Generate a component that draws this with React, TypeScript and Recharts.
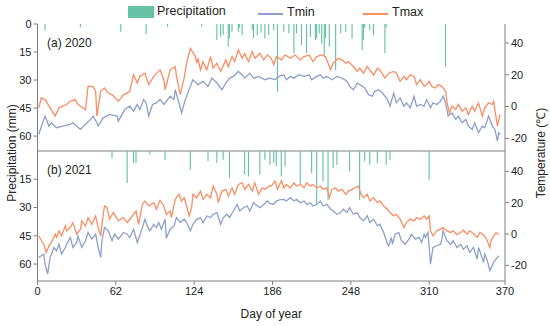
import React from "react";
import { ComposedChart, Bar, Line, XAxis, YAxis } from "recharts";

type Pt = [number, number]; // [day of year, value]

const dayTicks = [0, 62, 124, 186, 248, 310, 370];
const precipTicks = [0, 15, 30, 45, 60];
const tempTicks = [-20, 0, 20, 40];

// 2020
const tmax2020: Pt[] = [
  [1, -0.8], [3, 5.4], [6, 4.4], [10, -0.8], [14, -6], [17, -0.8], [23, 1.3], [26, 3.3], [30, 4.4], [31, 2.3],
  [34, 0.2], [38, -1.9], [40, 12.7], [44, 12.7], [46, 9.6], [47, -6], [50, 9.6], [53, 11.7], [56, 8.5], [59, 7.5],
  [64, 3.3], [68, 7.5], [71, 8.5], [73, 9.6], [76, 20], [79, 14.8], [81, 19], [85, 21], [88, 13.8], [92, 19],
  [97, 23.1], [100, 16.9], [101, 10.6], [105, 23.1], [109, 25.2], [110, 19], [113, 7.5], [116, 17.9], [118, 27.3], [121, 36.7],
  [125, 31.5], [126, 27.3], [127, 30.4], [129, 23.1], [131, 28.3], [134, 23.1], [137, 31.5], [139, 24.2], [142, 27.3], [145, 22.1],
  [149, 29.4], [151, 25.2], [154, 31.5], [156, 28.3], [159, 35.6], [162, 30.4], [164, 33.5], [167, 28.3], [170, 34.6], [172, 30.4],
  [176, 33.5], [179, 29.4], [182, 32.5], [185, 30.4], [187, 26.3], [189, 31.5], [193, 29.4], [196, 32.5], [200, 30.4], [204, 32.5],
  [208, 29.4], [211, 31.5], [215, 32.5], [218, 28.3], [221, 31.5], [225, 32.5], [228, 31.5], [230, 27.3], [232, 23.1], [234, 27.3],
  [238, 30.4], [241, 29.4], [244, 27.3], [246, 28.3], [250, 25.2], [253, 22.1], [255, 24.2], [258, 21], [261, 25.2], [263, 23.1],
  [266, 19.9], [269, 24.2], [271, 23.1], [275, 17.9], [278, 21], [282, 22.1], [284, 21], [287, 15.9], [290, 19], [292, 16.9],
  [295, 20], [298, 19], [300, 13.8], [303, 16.9], [306, 12.7], [308, 13.8], [310, 15.9], [312, 12.7], [315, 11.7], [317, 13.8],
  [320, 12.7], [323, 9.6], [324, 3.3], [326, -4], [328, 0.2], [331, -1.9], [333, 1.3], [336, -2.9], [339, -0.8], [341, -5],
  [344, 0.2], [346, -2.9], [349, 2.3], [352, -6], [354, -0.8], [357, 2.3], [360, 1.3], [361, 3.3], [364, -12.3], [366, -5],
];
const tmin2020: Pt[] = [
  [1, -17.5], [5, -8.1], [6, -6], [9, -12.3], [11, -10.2], [15, -13.3], [20, -12.3], [26, -11.2], [28, -10.2], [34, -14.4],
  [38, -11.2], [42, -8.1], [44, -6], [47, -10.2], [48, -12.3], [52, -7.1], [57, -5], [63, -6], [64, -9.2], [69, -1.9],
  [73, 0.2], [76, -2.9], [79, 1.3], [81, -1.9], [84, 4.4], [86, 2.3], [88, -6], [91, 1.3], [94, 2.3], [97, 4.4],
  [100, 1.3], [105, 6.5], [108, 4.4], [109, 10.6], [112, 2.3], [114, -4], [117, 4.4], [121, 12.7], [123, 16.9], [127, 13.8],
  [131, 15.9], [135, 12.7], [138, 17.9], [142, 14.8], [146, 10.6], [149, 14.8], [152, 17.9], [155, 19], [159, 22.1], [162, 20],
  [164, 17.9], [168, 21], [171, 17.9], [175, 19], [180, 16.9], [184, 17.9], [188, 16.9], [191, 19], [195, 20], [197, 16.9],
  [200, 19], [203, 17.9], [207, 20], [211, 19], [215, 20], [217, 16.9], [221, 19], [224, 20], [226, 17.9], [229, 19],
  [233, 16.9], [237, 19], [241, 17.9], [245, 15.9], [247, 12.7], [250, 10.6], [253, 14.8], [255, 13.8], [259, 11.7], [262, 7.5],
  [265, 6.5], [267, 9.6], [270, 10.6], [273, 8.5], [275, 6.5], [277, 4.4], [279, 0.2], [282, 8.5], [284, 2.3], [287, 5.4],
  [290, 0.2], [292, 2.3], [295, -0.8], [298, 6.5], [300, 0.2], [303, 1.3], [306, 0.2], [308, 4.4], [311, -0.8], [313, 2.3],
  [316, 1.3], [319, 3.3], [321, 6.5], [323, 2.3], [325, -6], [328, -4], [331, -8.1], [333, -6], [336, -10.2], [339, -8.1],
  [341, -12.3], [344, -14.4], [346, -10.2], [349, -16.5], [352, -12.3], [354, -13.3], [357, -6], [360, -12.3], [362, -14.4], [364, -21.7],
  [365, -16.5], [366, -17.5],
];
const precip2020: Pt[] = [
  [6, 3.2], [34, 1.8], [66, 4.1], [86, 5.4], [103, 1.5], [130, 1.5], [142, 8.6], [145, 6.8], [147, 5.9], [151, 12.1],
  [152, 7.7], [154, 4.1], [159, 4.1], [160, 2], [162, 5.9], [170, 3.2], [171, 7.7], [174, 5.9], [177, 4.5], [180, 7.7],
  [183, 5.9], [187, 3.2], [190, 36.2], [195, 4.1], [199, 5], [203, 15.7], [205, 5], [209, 11.2], [213, 15.7], [216, 6.8],
  [220, 8.6], [221, 7.7], [223, 5], [225, 10.4], [227, 16.6], [228, 7.7], [231, 12.1], [236, 24.6], [240, 5], [244, 4.1],
  [249, 7.7], [257, 13.9], [258, 8.6], [259, 2], [263, 3.2], [266, 5.9], [275, 15.7], [276, 2], [323, 22.9],
];

// 2021
const tmax2021: Pt[] = [
  [1, -1.2], [3, -4], [5, -6.5], [7, -11.8], [9, -7.6], [11, -5.4], [14, -0.1], [15, -2.2], [17, 2], [19, -1.2],
  [22, 5.2], [23, 2], [26, 4.1], [28, 7.3], [31, -0.1], [34, 3.1], [35, 8.4], [38, 5.2], [40, 10.5], [43, 6.2],
  [46, 11.5], [48, 4.1], [50, -1.2], [51, 6.2], [53, 17.9], [55, 16.8], [57, 9.4], [60, 13.7], [64, 8.4], [68, 10.5],
  [71, 7.3], [75, 11.5], [78, 14.7], [80, 6.2], [83, 18.9], [85, 21.1], [88, 17.9], [92, 20], [94, 15.8], [97, 21.5],
  [100, 17.9], [102, 12.6], [105, 14.7], [106, 10.5], [109, 22.1], [112, 25.3], [114, 21.1], [116, 23.2], [118, 17.9], [120, 11.6],
  [122, 16.8], [123, 25.3], [126, 23.2], [129, 27.4], [131, 22.1], [134, 25.3], [137, 23.2], [139, 30.6], [142, 25.3], [143, 20],
  [146, 27.4], [149, 28.5], [151, 24.2], [154, 29.5], [156, 25.3], [159, 31.6], [162, 32.7], [164, 28.5], [167, 31.6], [170, 27.4],
  [172, 32.7], [175, 25.3], [178, 29.5], [180, 28.5], [183, 30.6], [185, 30.6], [188, 33.7], [190, 28.5], [193, 34.2], [195, 29.5],
  [197, 31.6], [200, 29.5], [203, 32.7], [205, 30.6], [208, 31.6], [211, 29.5], [213, 32.7], [216, 30.6], [218, 31.6], [221, 29.5],
  [224, 30.6], [226, 28.5], [229, 29.5], [231, 23.2], [233, 28.5], [236, 29.5], [238, 27.4], [241, 28.5], [244, 25.3], [246, 27.4],
  [249, 28.5], [251, 29.5], [254, 30.6], [256, 25.3], [258, 23.2], [261, 25.3], [263, 21.1], [266, 23.2], [269, 20], [271, 21.1],
  [274, 17.9], [277, 15.8], [279, 13.7], [282, 11.6], [284, 12.6], [287, 9.5], [290, 4.1], [292, 7.3], [295, 9.5], [298, 8.4],
  [300, 10.5], [303, 9.5], [306, 11.6], [308, 9.5], [310, 11.6], [311, 2], [313, -1.2], [316, 2], [319, 3.1], [321, 4.1],
  [324, 2], [327, 1], [329, 2], [332, -0.5], [335, 1], [337, 2.4], [340, -0.1], [342, 2], [345, 0.3], [348, -2.2],
  [350, 1], [353, -0.5], [356, -4.3], [358, -8.6], [359, -4.3], [361, -1.2], [363, 0.9], [365, -0.5],
];
const tmin2021: Pt[] = [
  [1, -14.9], [3, -13.9], [5, -12.8], [6, -19.2], [8, -25.6], [10, -14.9], [13, -8.6], [15, -10.7], [17, -6.5], [19, -12.8],
  [22, -8.6], [23, -6.5], [26, -2.2], [28, -8.6], [31, -5.4], [32, -1.2], [35, -8.6], [38, -4.3], [40, 1], [43, -3.3],
  [46, -0.1], [48, -8.6], [50, -14.9], [51, -4.3], [53, 4.1], [56, 2], [59, -4.3], [61, -0.1], [64, -3.3], [68, 1],
  [71, -0.1], [73, -2.2], [76, 3.1], [79, -5.4], [83, 4.1], [85, 9.4], [88, 3.1], [89, 2], [92, 6.2], [94, 4.1],
  [96, 7.3], [98, 3.1], [101, 9.4], [102, -2.6], [105, 3.1], [108, 5.2], [110, 10.5], [113, 7.3], [116, 9.4], [118, 7.3],
  [121, 2], [123, 6.2], [126, 9.4], [129, 10.5], [131, 7.3], [134, 11.5], [137, 10.5], [139, 12.6], [142, 13.7], [145, 6.2],
  [147, 10.5], [150, 12.6], [152, 10.5], [155, 14.7], [158, 18.9], [160, 14.7], [163, 16.8], [166, 17.9], [168, 14.7], [171, 20],
  [174, 17.9], [176, 16.8], [179, 18.9], [182, 21.1], [184, 19.5], [187, 19], [189, 21], [192, 22], [195, 22.1], [197, 21.1],
  [200, 23.2], [203, 21.1], [205, 22.1], [208, 20], [211, 21.1], [213, 18.9], [216, 20], [218, 17.9], [221, 18.9], [224, 21.1],
  [226, 17.9], [229, 18.9], [232, 15.8], [234, 14.7], [237, 12.6], [240, 13.7], [242, 15.8], [245, 13.7], [247, 16.8], [250, 12.6],
  [253, 13.7], [255, 10.5], [258, 8.4], [261, 11.6], [263, 7.3], [266, 9.4], [269, 5.2], [271, 6.2], [274, 1], [277, -6.5],
  [278, -7.6], [280, -2.2], [281, -6.5], [283, -0.1], [286, 0.9], [288, -4.3], [291, -6.5], [294, -3.3], [296, -0.1], [299, -3.3],
  [302, -2.2], [304, -5.4], [306, -0.1], [307, -2.2], [309, 1], [310, -8.6], [311, -19.2], [313, -8.6], [316, -7.5], [319, -6.5],
  [320, -3.3], [321, 2], [324, -4.3], [327, -6.5], [329, -4.3], [332, -8.6], [335, -6.5], [337, -9.7], [340, -7.5], [342, -11.8],
  [345, -8.6], [348, -16], [349, -8.6], [350, -10.7], [353, -18.1], [354, -12.8], [356, -17], [358, -23.3], [361, -18.1], [364, -14.9],
  [365, -13.9],
];
const precip2021: Pt[] = [
  [59, 3.7], [71, 17], [76, 6.4], [78, 6.4], [89, 2], [101, 4.6], [121, 9.9], [135, 5.5], [142, 6.4], [147, 4.6],
  [152, 14.3], [164, 12.6], [167, 13.5], [176, 12.6], [180, 4.6], [184, 7.3], [187, 6.4], [189, 8.1], [193, 13.5], [196, 8.1],
  [208, 17.9], [217, 11.7], [221, 27.6], [226, 16.1], [230, 25.9], [234, 9], [237, 7.3], [247, 10.8], [255, 25.9], [259, 5.5],
  [263, 7.3], [269, 6.4], [276, 7.3], [279, 4.6], [310, 15.2],
];

const GREEN = "#66c2a5";
const ORANGE = "#fc8d62";
const BLUE = "#8da0cb";
const AXIS = "#808080";
const FONT = "'Liberation Sans', Arial, sans-serif";

interface Row {
  day: number;
  tmax?: number;
  tmin?: number;
  precip?: number;
}

function buildRows(tmax: Pt[], tmin: Pt[], precip: Pt[]): Row[] {
  const byDay = new Map<number, Row>();
  const at = (d: number) => {
    let r = byDay.get(d);
    if (!r) {
      r = { day: d };
      byDay.set(d, r);
    }
    return r;
  };
  tmax.forEach(([d, v]) => (at(d).tmax = v));
  tmin.forEach(([d, v]) => (at(d).tmin = v));
  precip.forEach(([d, v]) => (at(d).precip = v));
  return [...byDay.values()].sort((a, b) => a.day - b.day);
}

const tickStyle = { fill: "#222", fontSize: 11, fontFamily: FONT };

function Panel({
  rows,
  top,
  height,
  marginTop,
  marginBottom,
  precipMax,
  tempDomain,
  labelled,
}: {
  rows: Row[];
  top: number;
  height: number;
  marginTop: number;
  marginBottom: number;
  precipMax: number;
  tempDomain: [number, number];
  labelled: boolean;
}) {
  return (
    <div style={{ position: "absolute", left: 0, top }}>
      <ComposedChart
        width={550}
        height={height}
        data={rows}
        margin={{ top: marginTop, right: 5, bottom: marginBottom, left: 7.5 }}
      >
        <XAxis
          xAxisId="top"
          orientation="top"
          dataKey="day"
          type="number"
          domain={[0, 370]}
          ticks={dayTicks}
          tick={false}
          tickLine={false}
          height={0}
          axisLine={{ stroke: AXIS }}
        />
        <XAxis
          xAxisId="bottom"
          dataKey="day"
          type="number"
          domain={[0, 370]}
          ticks={dayTicks}
          tick={labelled ? tickStyle : false}
          tickSize={labelled ? 4 : 3}
          height={labelled ? 20 : 4}
          axisLine={{ stroke: AXIS }}
          tickLine={{ stroke: AXIS }}
          label={
            labelled
              ? { value: "Day of year", position: "bottom", offset: 8, style: { fill: "#222", fontSize: 12, fontFamily: FONT } }
              : undefined
          }
        />
        <YAxis
          yAxisId="p"
          orientation="left"
          reversed
          type="number"
          domain={[0, precipMax]}
          allowDataOverflow
          ticks={precipTicks}
          width={30}
          tickSize={4}
          tick={tickStyle}
          axisLine={{ stroke: AXIS }}
          tickLine={{ stroke: AXIS }}
        />
        <YAxis
          yAxisId="t"
          orientation="right"
          type="number"
          domain={tempDomain}
          allowDataOverflow
          ticks={tempTicks}
          width={40}
          tickSize={4}
          tick={tickStyle}
          axisLine={{ stroke: AXIS }}
          tickLine={{ stroke: AXIS }}
        />
        <Line
          xAxisId="bottom"
          yAxisId="t"
          dataKey="tmin"
          stroke={BLUE}
          strokeWidth={1.3}
          dot={false}
          connectNulls
          isAnimationActive={false}
        />
        <Line
          xAxisId="bottom"
          yAxisId="t"
          dataKey="tmax"
          stroke={ORANGE}
          strokeWidth={1.3}
          dot={false}
          connectNulls
          isAnimationActive={false}
        />
        <Bar
          xAxisId="bottom"
          yAxisId="p"
          dataKey="precip"
          fill={GREEN}
          barSize={1.6}
          isAnimationActive={false}
        />
      </ComposedChart>
    </div>
  );
}

const textStyle: React.CSSProperties = {
  position: "absolute",
  fontFamily: FONT,
  color: "#222",
  whiteSpace: "nowrap",
};

export default function App() {
  const rows2020 = buildRows(tmax2020, tmin2020, precip2020);
  const rows2021 = buildRows(tmax2021, tmin2021, precip2021);

  return (
    <div
      style={{
        position: "fixed",
        left: 0,
        top: 0,
        width: 550,
        height: 326,
        background: "#fff",
        overflow: "hidden",
      }}
    >
      <Panel
        rows={rows2020}
        top={0}
        height={155}
        marginTop={24}
        marginBottom={0}
        precipMax={68}
        tempDomain={[-28, 52]}
        labelled={false}
      />
      <Panel
        rows={rows2021}
        top={147}
        height={179}
        marginTop={4}
        marginBottom={25}
        precipMax={69}
        tempDomain={[-30, 53]}
        labelled
      />

      {/* legend */}
      <div style={{ ...textStyle, left: 128, top: 6, width: 26, height: 12, background: GREEN }} />
      <div style={{ ...textStyle, left: 157, top: 4, fontSize: 12.5 }}>Precipitation</div>
      <div style={{ ...textStyle, left: 258, top: 13, width: 25, height: 1.5, background: BLUE }} />
      <div style={{ ...textStyle, left: 287, top: 5, fontSize: 12.5 }}>Tmin</div>
      <div style={{ ...textStyle, left: 363, top: 13, width: 25, height: 1.5, background: ORANGE }} />
      <div style={{ ...textStyle, left: 392, top: 5, fontSize: 12.5 }}>Tmax</div>

      {/* panel labels */}
      <div style={{ ...textStyle, left: 47, top: 36, fontSize: 12 }}>(a) 2020</div>
      <div style={{ ...textStyle, left: 47, top: 163, fontSize: 12 }}>(b) 2021</div>

      {/* axis titles */}
      <div
        style={{
          ...textStyle,
          left: 12,
          top: 153,
          fontSize: 12,
          transform: "translate(-50%, -50%) rotate(-90deg)",
        }}
      >
        Precipitation (mm)
      </div>
      <div
        style={{
          ...textStyle,
          left: 540,
          top: 153,
          fontSize: 12,
          transform: "translate(-50%, -50%) rotate(-90deg)",
        }}
      >
        Temperature (℃)
      </div>
    </div>
  );
}
